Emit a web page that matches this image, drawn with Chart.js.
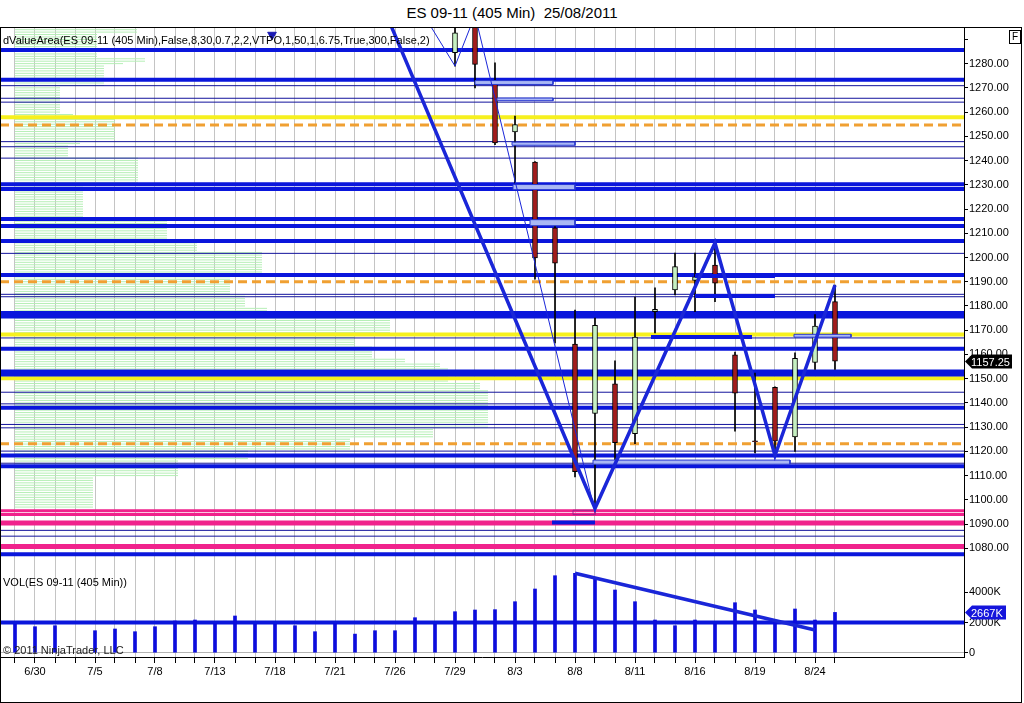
<!DOCTYPE html>
<html>
<head>
<meta charset="utf-8">
<title>ES 09-11 (405 Min) 25/08/2011</title>
<script src="https://cdn.jsdelivr.net/npm/chart.js@4.4.0/dist/chart.umd.min.js"></script>
<style>
  body { margin: 0; background: #fff; font-family: "Liberation Sans", Arial, sans-serif; }
  #wrap { position: relative; width: 1024px; height: 703px; overflow: hidden; }
  #title { position: absolute; top: 4px; left: 0; width: 1024px; text-align: center; font-size: 15px; color: #000; }
  #frame { position: absolute; left: 0; top: 27px; width: 1020px; height: 674px; border: 1px solid #000; pointer-events: none; }
  #main { position: absolute; left: 0; top: 28px; }
  #vol { position: absolute; left: 0; top: 565px; }
  .lbl { position: absolute; font-size: 11px; color: #000; white-space: nowrap; }
  #fbox { position: absolute; left: 1009px; top: 30px; width: 10px; height: 12px; border: 1px solid #000; font-size: 10px; text-align: center; line-height: 12px; }
</style>
</head>
<body>
<div id="wrap">
  <div id="title">ES 09-11 (405 Min)&nbsp;&nbsp;25/08/2011</div>
  <canvas id="main" width="1022" height="537"></canvas>
  <canvas id="vol" width="1022" height="137"></canvas>
  <div class="lbl" style="left:3px;top:34px">dValueArea(ES 09-11 (405 Min),False,8,30,0.7,2,2,VTPO,1,50,1,6.75,True,300,False,2)</div>
  <div class="lbl" style="left:3px;top:576px">VOL(ES 09-11 (405 Min))</div>
  <div class="lbl" style="left:3px;top:644px;color:#222">© 2011 NinjaTrader, LLC</div>
  <div id="fbox">F</div>
  <div id="frame"></div>
</div>
<script>
// Staplar (405 min), index 0 = första staplen till vänster
const candleIdx = [22, 23, 24, 25, 26, 27, 28, 29, 30, 31, 32, 33, 34, 35, 36, 37, 38, 39, 40, 41];
const opens  = [1284.5, 1297.0, 1273.1, 1251.8, 1239.4, 1212.2, 1164.3, 1135.6, 1147.9, 1127.3, 1177.6, 1186.6, 1190.5, 1196.9, 1159.8, 1124.3, 1146.4, 1126.0, 1156.7, 1181.8];
const highs  = [1296.0, 1300.0, 1280.3, 1258.4, 1239.6, 1215.0, 1178.3, 1175.0, 1157.4, 1183.7, 1187.5, 1201.8, 1201.8, 1206.0, 1161.0, 1152.3, 1146.6, 1160.7, 1176.4, 1188.6];
const lows   = [1279.0, 1270.0, 1246.6, 1230.8, 1191.0, 1164.7, 1109.4, 1095.0, 1115.7, 1123.2, 1168.9, 1184.6, 1177.6, 1181.8, 1128.3, 1119.4, 1118.3, 1120.0, 1153.8, 1153.8];
const closes = [1292.7, 1279.7, 1247.3, 1254.8, 1199.8, 1197.7, 1111.6, 1172.0, 1123.6, 1167.2, 1178.6, 1196.2, 1192.0, 1189.4, 1144.0, 1124.0, 1124.2, 1158.4, 1171.7, 1157.25];

// Volym i tusental (K), null = ingen stapel
const volumes = [1880, 1721, 1787, null, 1456, 1569, 1390, 1721, 2098, 2165,
                 1946, 2430, 1880, 1880, 1787, 1390, 1946, 1231, 1456, 1456,
                 2317, 1880, 2714, 2827, 2850, 3376, 4217, 5097, 5256, 4925,
                 4151, 3376, 2165, 1787, 2165, 1900, 3310, 2827, 2052, 2893,
                 2165, 2667];

// Datumetiketter på x-axeln
const dateIdx  = [1, 4, 7, 10, 13, 16, 19, 22, 25, 28, 31, 34, 37, 40];
const dateText = ['6/30', '7/5', '7/8', '7/13', '7/18', '7/21', '7/26', '7/29', '8/3', '8/8', '8/11', '8/16', '8/19', '8/24'];

// Pristicks och volymticks
const priceTicks = [1080, 1090, 1100, 1110, 1120, 1130, 1140, 1150, 1160, 1170, 1180, 1190, 1200, 1210, 1220, 1230, 1240, 1250, 1260, 1270, 1280, 1290];
const volTicks = [0, 2000, 4000];

// Horisontella nivåer
const thickBlueLevels = [1285.6, 1273.3, 1230.2, 1228.3, 1215.9, 1213.0, 1206.8, 1192.8, 1177.1, 1175.6, 1162.3, 1153.0, 1151.7, 1138.0, 1118.3, 1113.8, 1077.5];
const thinBlueLevels = [1270.9, 1265.7, 1264.1, 1247.8, 1245.7, 1241.0, 1201.7, 1184.8, 1183.8, 1166.8, 1144.4, 1139.6, 1131.1, 1129.7, 1120.1, 1115.1, 1087.4, 1085.0];
const yellowLevels = [1257.9, 1168.2, 1150.2];
const orangeLevels = [1254.7, 1190.0, 1123.1];
const pinkThinLevels = [1095.5, 1093.9];
const pinkThickLevels = [1090.4, 1080.7];

// Korta rektanglar (start/slut i stapelindex, topp/botten i pris)
const rectStart  = [23, 24.1, 24.85, 24.9, 25.75, 28.9, 38.95];
const rectEnd    = [26.9, 26.9, 28, 28, 28, 38.75, 41.8];
const rectTop    = [1273.0, 1265.8, 1247.6, 1230.1, 1215.6, 1116.4, 1168.3];
const rectBottom = [1271.4, 1264.7, 1246.3, 1228.0, 1213.1, 1114.7, 1167.1];
const pinkRect = [27.9, 29, 1095.7, 1093.9];

// Korta tjocka segment
const segStart = [31.8, 26.85, 34, 34];
const segEnd   = [36.85, 29, 38, 38];
const segLevel = [1167.2, 1090.6, 1192.4, 1184.1];

// ZigZag-linjer
const thickZigIdx = [18, 29, 35, 38, 41];
const thickZigPrice = [1311.3, 1096.5, 1206.0, 1118.3, 1188.6];
const thinZigIdx = [20, 22, 23, 29];
const thinZigPrice = [1306.0, 1279.0, 1300.0, 1095.0];

// Signalmarkör uppe till vänster
const signalIdx = [12.85];
const signalPrice = [1291.9];

// Volymprofil: block med översta pris och längd (i stapelindex)
const profileFrom = [1294, 1292, 1282, 1280, 1279, 1270, 1259, 1258, 1248, 1246, 1241, 1230, 1215, 1207, 1202, 1193, 1184, 1179, 1175, 1168, 1163, 1158, 1156, 1154, 1148, 1145, 1129, 1125, 1120, 1116, 1109];
const profileLen  = [6.1, 4.1, 6.5, 5.4, 4.45, 2.25, 2.9, 5.0, 3.25, 2.65, 6.15, 3.4, 7.6, 9.1, 12.35, 10.75, 11.5, 12.6, 18.75, 17.0, 17.85, 19.5, 21.25, 21.65, 23.25, 23.65, 20.9, 16.75, 11.65, 8.15, 3.9];
const profileBottom = 1097;

// Volymens trendlinje och nivå
const volTrendIdx = [28, 40];
const volTrendVal = [5256, 1500];
const volLevel = 2000;

const xMin = -0.75;
const xMax = 47.45;
const barSlots = volumes.map((v, i) => i);

Chart.defaults.font.family = '"Liberation Sans", Arial, sans-serif';
Chart.defaults.font.size = 11;
Chart.defaults.color = '#000';

// Horisontella linjer som segment, brutna med null
function levelSegments(levels, from, to) {
  const pts = [];
  levels.forEach((p, k) => {
    const a = Array.isArray(from) ? from[k] : from;
    const b = Array.isArray(to) ? to[k] : to;
    pts.push({x: a, y: p}, {x: b, y: p}, {x: b, y: null});
  });
  return pts;
}

function profileRows() {
  const pts = [];
  profileFrom.forEach((top, k) => {
    const bottom = k + 1 < profileFrom.length ? profileFrom[k + 1] : profileBottom - 1;
    for (let p = top; p > bottom; p--) {
      pts.push({x: 0, y: p}, {x: profileLen[k], y: p}, {x: profileLen[k], y: null});
    }
  });
  return pts;
}

function rectShape(x0, x1, top, bottom) {
  return [{x: x0, y: top}, {x: x1, y: top}, {x: x1, y: bottom}, {x: x0, y: bottom}, {x: x0, y: top}];
}

function lineSet(data, color, width, order, extra) {
  return Object.assign({
    type: 'line', data: data, borderColor: color, borderWidth: width,
    pointRadius: 0, fill: false, spanGaps: false, order: order, clip: 0
  }, extra || {});
}

// Ritar prisrutan till höger om axeln (senaste värdet)
const lastMarker = {
  id: 'lastMarker',
  afterDraw(chart, args, opts) {
    const {ctx, chartArea, scales} = chart;
    const y = Math.round(scales.y.getPixelForValue(opts.value)) + 0.5;
    const x = chartArea.right;
    ctx.save();
    ctx.fillStyle = opts.bg;
    ctx.beginPath();
    ctx.moveTo(x + 1, y);
    ctx.lineTo(x + 8, y - 7);
    ctx.lineTo(x + opts.w, y - 7);
    ctx.lineTo(x + opts.w, y + 7);
    ctx.lineTo(x + 8, y + 7);
    ctx.closePath();
    ctx.fill();
    ctx.fillStyle = '#fff';
    ctx.font = '11px "Liberation Sans", Arial, sans-serif';
    ctx.textBaseline = 'middle';
    ctx.fillText(opts.text, x + 7, y + 1);
    ctx.restore();
  }
};

const rectSets = rectStart.map((s, k) => lineSet(rectShape(s, rectEnd[k], rectTop[k], rectBottom[k]),
  '#2838d0', 1, 6, {fill: 'shape', backgroundColor: '#aab8f4'}));
rectSets.push(lineSet(rectShape(pinkRect[0], pinkRect[1], pinkRect[2], pinkRect[3]), '#a0208a', 1, 6));

new Chart(document.getElementById('main'), {
  type: 'bar',
  data: {
    datasets: [
      lineSet(profileRows(), '#b6efb6', 1, 20),
      lineSet(levelSegments(thinBlueLevels, xMin, xMax), '#12129c', 1, 15),
      lineSet(levelSegments(yellowLevels, xMin, xMax), '#f6f01e', 4, 14),
      lineSet(levelSegments(orangeLevels, xMin, xMax), '#f0a032', 3, 13, {borderDash: [9, 5]}),
      lineSet(levelSegments(pinkThinLevels, xMin, xMax), '#f0228c', 3, 12),
      lineSet(levelSegments(pinkThickLevels, xMin, xMax), '#f0228c', 5, 12),
      lineSet(levelSegments(thickBlueLevels, xMin, xMax), '#0a16dc', 4, 11),
      {
        type: 'bar', order: 9, grouped: false, clip: 0,
        data: candleIdx.map((i, k) => ({x: i, y: [lows[k], highs[k]]})),
        backgroundColor: '#000', barThickness: 1
      },
      {
        type: 'bar', order: 8, grouped: false, clip: 0,
        data: candleIdx.map((i, k) => ({x: i, y: [opens[k], closes[k]]})),
        backgroundColor: candleIdx.map((i, k) => closes[k] >= opens[k] ? '#c6f0c2' : '#a31c1c'),
        borderColor: '#000', borderWidth: 1, borderSkipped: false, barThickness: 5
      },
      ...rectSets,
      lineSet(levelSegments(segLevel, segStart, segEnd), '#0a16dc', 4, 5),
      lineSet(thinZigIdx.map((i, k) => ({x: i, y: thinZigPrice[k]})), '#1a26d8', 1, 3),
      lineSet(thickZigIdx.map((i, k) => ({x: i, y: thickZigPrice[k]})), '#1a26d8', 3.5, 2),
      {
        type: 'scatter', order: 1, clip: 0,
        data: signalIdx.map((i, k) => ({x: i, y: signalPrice[k]})),
        pointStyle: 'triangle', rotation: 180, pointRadius: 5,
        backgroundColor: '#1a1ab4', borderColor: '#1a1ab4'
      }
    ]
  },
  options: {
    responsive: false,
    animation: false,
    devicePixelRatio: 1,
    layout: {padding: 0, autoPadding: false},
    plugins: {
      legend: {display: false},
      tooltip: {enabled: false},
      lastMarker: {value: closes[closes.length - 1], text: closes[closes.length - 1].toFixed(2), bg: '#000', w: 48}
    },
    scales: {
      x: {
        type: 'linear', min: xMin, max: xMax, offset: false,
        afterBuildTicks: s => { s.ticks = barSlots.map(v => ({value: v})); },
        ticks: {display: false},
        grid: {color: '#c4c4c4', drawTicks: false, offset: false},
        border: {display: true, color: '#000'},
        afterFit: s => { s.height = 0; s.paddingLeft = 0; s.paddingRight = 0; }
      },
      y: {
        position: 'right', min: 1073.1, max: 1294.7,
        afterBuildTicks: s => { s.ticks = priceTicks.map(v => ({value: v})); },
        ticks: {callback: v => v === 1290 ? '' : v.toFixed(2), padding: 1, color: '#000'},
        grid: {drawOnChartArea: false, color: '#000', tickLength: 4},
        border: {display: true, color: '#000'},
        afterFit: s => { s.width = 58; s.paddingTop = 0; s.paddingBottom = 0; }
      }
    }
  },
  plugins: [lastMarker]
});

new Chart(document.getElementById('vol'), {
  type: 'bar',
  data: {
    datasets: [
      lineSet([{x: xMin, y: volLevel}, {x: xMax, y: volLevel}], '#0a16dc', 4, 5),
      {
        type: 'bar', order: 3, grouped: false,
        data: volumes.map((v, i) => ({x: i, y: v})).filter(d => d.y !== null),
        backgroundColor: '#0c0cdc', barThickness: 3
      },
      lineSet(volTrendIdx.map((i, k) => ({x: i, y: volTrendVal[k]})), '#1a26d8', 3.5, 1)
    ]
  },
  options: {
    responsive: false,
    animation: false,
    devicePixelRatio: 1,
    layout: {padding: 0, autoPadding: false},
    plugins: {
      legend: {display: false},
      tooltip: {enabled: false},
      lastMarker: {value: volumes[volumes.length - 1], text: volumes[volumes.length - 1] + 'K', bg: '#1414dc', w: 42}
    },
    scales: {
      x: {
        type: 'linear', min: xMin, max: xMax, offset: false,
        afterBuildTicks: s => { s.ticks = barSlots.map(v => ({value: v})); },
        ticks: {
          autoSkip: false, maxRotation: 0, padding: 2, color: '#000',
          callback: v => { const k = dateIdx.indexOf(v); return k >= 0 ? dateText[k] : ''; }
        },
        grid: {color: '#c4c4c4', tickColor: '#000', tickLength: 6, offset: false},
        border: {display: true, color: '#000'},
        afterFit: s => { s.height = 45; s.paddingLeft = 0; s.paddingRight = 0; }
      },
      y: {
        position: 'right', min: -285, max: 5806,
        afterBuildTicks: s => { s.ticks = volTicks.map(v => ({value: v})); },
        ticks: {callback: v => v === 0 ? '0' : v + 'K', padding: 1, color: '#000'},
        grid: {color: c => c.tick && c.tick.value === 0 ? '#b4b4b4' : 'rgba(0,0,0,0)', tickColor: '#000', tickLength: 4},
        border: {display: true, color: '#000'},
        afterFit: s => { s.width = 58; s.paddingTop = 0; s.paddingBottom = 0; }
      }
    }
  },
  plugins: [lastMarker]
});
</script>
</body>
</html>
